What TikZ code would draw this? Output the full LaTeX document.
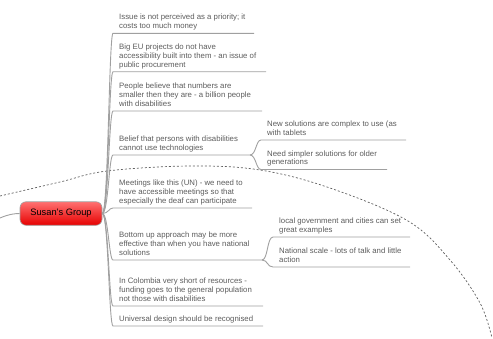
\documentclass[tikz,border=0pt]{standalone}
\usepackage{fontspec}
\setmainfont{Liberation Sans}
\definecolor{txt}{HTML}{5C5C5C}
\definecolor{ln}{HTML}{A0A0A0}
\definecolor{dsh}{HTML}{606060}
\definecolor{redtop}{HTML}{FF7070}
\definecolor{redmid}{HTML}{FF1A1A}
\definecolor{redbot}{HTML}{E60000}
\begin{document}
\begin{tikzpicture}[x=1pt,y=-1pt,
  topic/.style={anchor=south west, align=left, font=\fontsize{7.8}{8.8}\selectfont,
    text=txt, inner xsep=6pt, inner ysep=4.5pt, text depth=0pt},
  conn/.style={draw=ln, line width=0.9pt},
  central/.style={rounded corners=6pt, minimum width=82pt, minimum height=23.5pt,
    draw=ln, line width=0.6pt, top color=redtop, middle color=redmid, bottom color=redbot,
    font=\fontsize{9.3}{11}\selectfont, text=black, inner sep=0pt},
  bound/.style={draw=dsh, line width=0.7pt, dash pattern=on 2pt off 2pt}
]
\useasboundingbox (0,0) rectangle (493,338);

% boundary arc
\draw[bound] plot[smooth, tension=0.6] coordinates {(0,196) (60,182) (107,171) (190,166) (260,170) (330,188) (408,221) (450,260) (480,303) (492,338)};

% central topic
\node[central] (c) at (61,213.5) {Susan's Group};
\coordinate (l0) at (0,218);
\draw[conn] (l0) .. controls (8,214.5) and (14,213.5) .. (c.west);

% children
\node[topic] (n1) at (113,33.3) {Issue is not perceived as a priority; it\\costs too much money};
\node[topic] (n2) at (113,71.7) {Big EU projects do not have\\accessibility built into them - an issue of\\public procurement};
\node[topic] (n3) at (113,111) {People believe that numbers are\\smaller then they are - a billion people\\with disabilities};
\node[topic] (n4) at (113,155) {Belief that persons with disabilities\\cannot use technologies};
\node[topic] (n5) at (113,208) {Meetings like this (UN) - we need to\\have accessible meetings so that\\especially the deaf can participate};
\node[topic] (n6) at (113,260) {Bottom up approach may be more\\effective than when you have national\\solutions};
\node[topic] (n7) at (113,306) {In Colombia very short of resources -\\funding goes to the general population\\not those with disabilities};
\node[topic] (n8) at (113,326) {Universal design should be recognised};

\coordinate (e1) at (254,33.3);
\coordinate (e2) at (266,71.7);
\coordinate (e3) at (262,111);
\coordinate (e4) at (250,155);
\coordinate (e5) at (252,208);
\coordinate (e6) at (262,260);
\coordinate (e7) at (263,306);
\coordinate (e8) at (263,326);

\foreach \i in {1,...,8}{
  \draw[conn] (c.east) .. controls +(6,0) and +(-4,0) .. (n\i.south west) -- (e\i);
}

% sub-children
\node[topic] (s4a) at (261,140) {New solutions are complex to use (as\\with tablets};
\node[topic] (s4b) at (261,169.5) {Need simpler solutions for older\\generations};
\node[topic] (s6a) at (273,237) {local government and cities can set\\great examples};
\node[topic] (s6b) at (273,267) {National scale - lots of talk and little\\action};

\coordinate (f4a) at (406,140);
\coordinate (f4b) at (387,169.5);
\coordinate (f6a) at (410,237);
\coordinate (f6b) at (410,267);

\draw[conn] (e4) .. controls +(6,0) and +(-5,0) .. (s4a.south west) -- (f4a);
\draw[conn] (e4) .. controls +(6,0) and +(-5,0) .. (s4b.south west) -- (f4b);
\draw[conn] (e6) .. controls +(6,0) and +(-6,0) .. (s6a.south west) -- (f6a);
\draw[conn] (e6) .. controls +(6,0) and +(-6,0) .. (s6b.south west) -- (f6b);
\end{tikzpicture}
\end{document}
